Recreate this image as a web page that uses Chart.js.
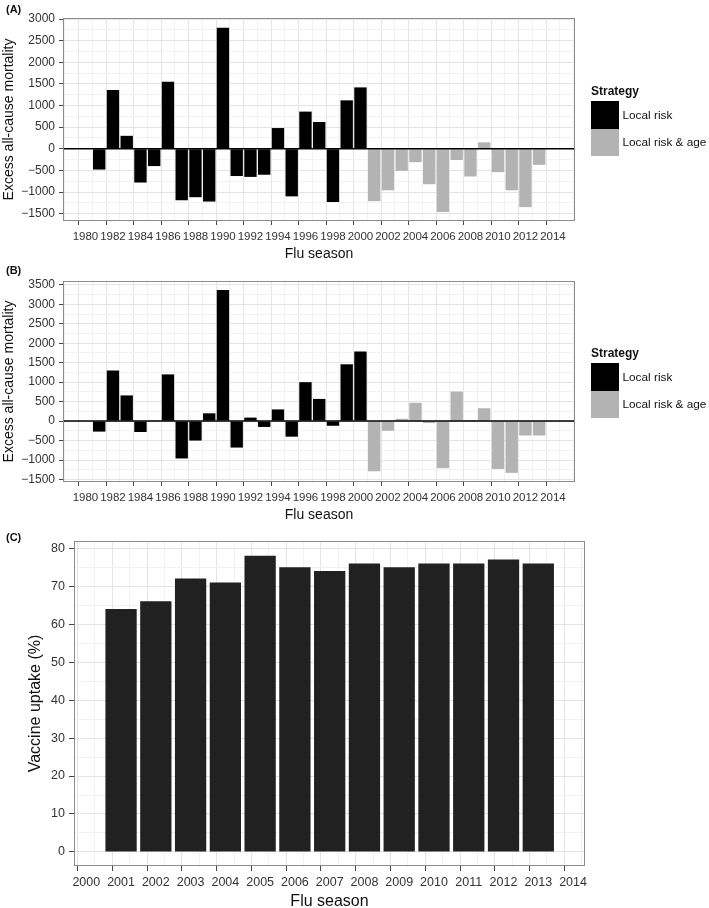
<!DOCTYPE html>
<html lang="en">
<head>
<meta charset="UTF-8" />
<title>Excess mortality and vaccine uptake</title>
<script src="https://cdn.jsdelivr.net/npm/chart.js@4"></script>
<style>
  body { margin: 0; background: #fff; font-family: "Liberation Sans", Arial, sans-serif; }
  #wrap { position: relative; width: 709px; height: 908px; overflow: hidden; }
  canvas { position: absolute; left: 0; top: 0; }
  .tag { position: absolute; left: 6px; font-weight: bold; font-size: 11px; color: #111; line-height: 1; }
  .legend { position: absolute; left: 591px; width: 118px; color: #111; }
  .legend .ttl { font-weight: bold; font-size: 12px; height: 20px; line-height: 20px; }
  .legend .row { height: 27.5px; display: flex; align-items: center; font-size: 11.8px; white-space: nowrap; }
  .legend .key { width: 27.5px; height: 27.5px; margin-right: 4px; flex: none; }
</style>
</head>
<body>
<div id="wrap">
  <canvas id="chartA" width="709" height="908"></canvas>
  <canvas id="chartB" width="709" height="908"></canvas>
  <canvas id="chartC" width="709" height="908"></canvas>

  <div class="tag" style="top:4px">(A)</div>
  <div class="tag" style="top:265px">(B)</div>
  <div class="tag" style="top:532px">(C)</div>

  <div class="legend" id="legendA" style="top:81px"></div>
  <div class="legend" id="legendB" style="top:343px"></div>
</div>

<script>
  // ---- data ----
  const seasonsLocal = [1981, 1982, 1983, 1984, 1985, 1986, 1987, 1988, 1989, 1990,
                        1991, 1992, 1993, 1994, 1995, 1996, 1997, 1998, 1999, 2000];
  const seasonsAge = [2001, 2002, 2003, 2004, 2005, 2006, 2007, 2008, 2009, 2010, 2011, 2012, 2013];

  // panel A
  const excessLocalA = [-480, 1360, 300, -780, -400, 1550, -1190, -1120, -1220, 2800,
                        -630, -650, -600, 480, -1100, 860, 620, -1230, 1120, 1420];
  const excessAgeA = [-1210, -960, -510, -310, -820, -1460, -260, -640, 150, -540, -960, -1350, -370];

  // panel B
  const excessLocalB = [-270, 1300, 660, -280, 10, 1200, -960, -500, 200, 3370,
                        -680, 90, -150, 300, -400, 1000, 570, -120, 1460, 1790];
  const excessAgeB = [-1290, -250, 60, 470, -50, -1210, 760, 30, 330, -1230, -1330, -370, -370];

  // panel C
  const uptakeSeasons = [2001, 2002, 2003, 2004, 2005, 2006, 2007, 2008, 2009, 2010, 2011, 2012, 2013];
  const uptakePct = [64, 66, 72, 71, 78, 75, 74, 76, 75, 76, 76, 77, 76];

  // tick labels
  const seasonTicksAB = [1980, 1982, 1984, 1986, 1988, 1990, 1992, 1994, 1996, 1998,
                         2000, 2002, 2004, 2006, 2008, 2010, 2012, 2014];
  const excessTicksA = [-1500, -1000, -500, 0, 500, 1000, 1500, 2000, 2500, 3000];
  const excessTicksB = [-1500, -1000, -500, 0, 500, 1000, 1500, 2000, 2500, 3000, 3500];
  const seasonTicksC = [2000, 2001, 2002, 2003, 2004, 2005, 2006, 2007, 2008, 2009, 2010, 2011, 2012, 2013, 2014];
  const uptakeTicks = [0, 10, 20, 30, 40, 50, 60, 70, 80];

  const strategyNames = ["Local risk", "Local risk & age"];
  const strategyColors = ["#000000", "#b3b3b3"];
  const uptakeColor = "#212121";

  Chart.defaults.font.family = "'Liberation Sans', Arial, sans-serif";

  const MAJOR = "#e4e4e4";
  const MINOR = "#f2f2f2";

  // major ticks from the list, minor ones half way between (and just outside the ends)
  function withMinor(majors, min, max) {
    const step = majors[1] - majors[0];
    const all = [];
    for (let i = 0; i < majors.length; i++) {
      all.push(majors[i]);
      if (i < majors.length - 1) all.push((majors[i] + majors[i + 1]) / 2);
    }
    const lo = majors[0] - step / 2, hi = majors[majors.length - 1] + step / 2;
    if (lo >= min) all.unshift(lo);
    if (hi <= max) all.push(hi);
    return all;
  }

  function fmt(v) {
    return v < 0 ? "\u2212" + Math.abs(v) : String(v);
  }

  function axis(opts) {
    const majors = new Set(opts.ticks);
    const isMajor = ctx => ctx.tick && majors.has(ctx.tick.value);
    return {
      type: "linear",
      min: opts.min,
      max: opts.max,
      afterBuildTicks: s => { s.ticks = withMinor(opts.ticks, opts.min, opts.max).map(v => ({ value: v })); },
      afterFit: opts.fit,
      ticks: {
        autoSkip: false,
        maxRotation: 0,
        padding: opts.pad,
        color: "#333",
        font: { size: opts.fontSize },
        callback: v => majors.has(v) ? fmt(v) : ""
      },
      grid: {
        color: ctx => isMajor(ctx) ? MAJOR : MINOR,
        tickColor: ctx => isMajor(ctx) ? "#444" : "rgba(0,0,0,0)",
        tickLength: opts.tickLen,
        lineWidth: 1
      },
      border: { display: false },
      title: {
        display: true,
        text: opts.title,
        color: "#111",
        font: { size: opts.titleSize, lineHeight: 1 },
        padding: opts.titlePad
      }
    };
  }

  const panelFrame = {
    id: "panelFrame",
    afterDatasetsDraw(chart, args, o) {
      const { ctx, chartArea: a, scales } = chart;
      ctx.save();
      if (o.zeroLine) {
        const y0 = scales.y.getPixelForValue(0);
        ctx.strokeStyle = "#000";
        ctx.lineWidth = 1.5;
        ctx.beginPath();
        ctx.moveTo(a.left, y0);
        ctx.lineTo(a.right, y0);
        ctx.stroke();
      }
      ctx.strokeStyle = "#8c8c8c";
      ctx.lineWidth = 1;
      ctx.strokeRect(a.left + 0.5, a.top + 0.5, a.right - a.left - 1, a.bottom - a.top - 1);
      ctx.restore();
    }
  };

  // barPct is relative to the smallest gap the bar ruler sees (data or ticks)
  function barSet(label, xs, ys, color, barPct) {
    return {
      label,
      data: xs.map((x, i) => ({ x, y: ys[i] })),
      backgroundColor: color,
      borderWidth: 0,
      barPercentage: barPct,
      categoryPercentage: 1,
      grouped: false
    };
  }

  function mortalityChart(id, plot, localVals, ageVals, yMin, yMax, yTicks) {
    const xH = 40;
    new Chart(document.getElementById(id), {
      type: "bar",
      data: {
        datasets: [
          barSet(strategyNames[0], seasonsLocal, localVals, strategyColors[0], 0.9),
          barSet(strategyNames[1], seasonsAge, ageVals, strategyColors[1], 0.9)
        ]
      },
      options: {
        responsive: false,
        animation: false,
        devicePixelRatio: 1,
        layout: { padding: { left: 0, top: plot.top, right: 709 - plot.right, bottom: 908 - plot.bottom - xH } },
        plugins: { legend: { display: false }, tooltip: { enabled: false }, panelFrame: { zeroLine: true } },
        scales: {
          x: axis({
            min: 1978.87, max: 2015.1, ticks: seasonTicksAB, pad: 5, tickLen: 4, fontSize: 11.5,
            title: "Flu season", titleSize: 14, titlePad: { top: 0, bottom: 0 },
            fit: s => { s.height = xH; }
          }),
          y: axis({
            min: yMin, max: yMax, ticks: yTicks, pad: 4, tickLen: 4, fontSize: 12,
            title: "Excess all-cause mortality", titleSize: 14, titlePad: { top: 2, bottom: 0 },
            fit: s => { s.width = plot.left; }
          })
        }
      },
      plugins: [panelFrame]
    });
  }

  mortalityChart("chartA", { left: 63, top: 18, right: 575, bottom: 221 }, excessLocalA, excessAgeA, -1670, 3025, excessTicksA);
  mortalityChart("chartB", { left: 63, top: 281, right: 575, bottom: 482 }, excessLocalB, excessAgeB, -1565, 3600, excessTicksB);

  // panel C
  const plotC = { left: 74, top: 541, right: 585, bottom: 866 };
  const xHC = 42;
  new Chart(document.getElementById("chartC"), {
    type: "bar",
    data: {
      // minor ticks sit every half season, so 1.8 of that gap = 0.9 of a season
      datasets: [barSet("Vaccine uptake", uptakeSeasons, uptakePct, uptakeColor, 1.8)]
    },
    options: {
      responsive: false,
      animation: false,
      devicePixelRatio: 1,
      layout: { padding: { left: 0, top: plotC.top, right: 709 - plotC.right, bottom: 908 - plotC.bottom - xHC } },
      plugins: { legend: { display: false }, tooltip: { enabled: false }, panelFrame: { zeroLine: false } },
      scales: {
        x: axis({
          min: 1999.9, max: 2014.09, ticks: seasonTicksC, pad: 4, tickLen: 5, fontSize: 12.5,
          title: "Flu season", titleSize: 16, titlePad: { top: 0, bottom: -2 },
          fit: s => { s.height = xHC; }
        }),
        y: axis({
          min: -3.7, max: 81.9, ticks: uptakeTicks, pad: 4, tickLen: 5, fontSize: 12.5,
          title: "Vaccine uptake (%)", titleSize: 16, titlePad: { top: 27.5, bottom: 0 },
          fit: s => { s.width = plotC.left; }
        })
      }
    },
    plugins: [panelFrame]
  });

  // ggplot style legends
  function buildLegend(id) {
    const el = document.getElementById(id);
    let html = '<div class="ttl">Strategy</div>';
    strategyNames.forEach((name, i) => {
      html += `<div class="row"><span class="key" style="background:${strategyColors[i]}"></span>${name}</div>`;
    });
    el.innerHTML = html;
  }
  buildLegend("legendA");
  buildLegend("legendB");
</script>
</body>
</html>
